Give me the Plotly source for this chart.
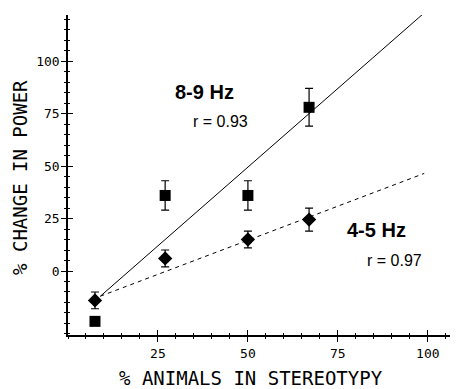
import plotly.graph_objects as go

# % animals in stereotypy
x_pts = [7.5, 27, 50, 67]
# 8-9 Hz (squares)
y_89 = [-24, 36, 36, 78]
err_89 = [0, 7, 7, 9]
# 4-5 Hz (diamonds)
y_45 = [-14, 6, 15, 24.5]
err_45 = [4, 4, 4, 5.5]
# regression lines (end points)
fit_x = [9, 99]
fit_89 = [-12, 123]
fit_45 = [-12, 46.5]

x_ticks = [25, 50, 75, 100]
y_ticks = [0, 25, 50, 75, 100]

mono = "DejaVu Sans Mono"
fig = go.Figure()

fig.add_trace(go.Scatter(x=fit_x, y=fit_89, mode="lines",
                         line=dict(color="black", width=1), showlegend=False))
fig.add_trace(go.Scatter(x=fit_x, y=fit_45, mode="lines",
                         line=dict(color="black", width=1, dash="4px,4px"), showlegend=False))
fig.add_trace(go.Scatter(x=x_pts, y=y_89, mode="markers",
                         marker=dict(symbol="square", size=11, color="black"),
                         error_y=dict(type="data", array=err_89, color="black", thickness=1.2, width=4),
                         showlegend=False))
fig.add_trace(go.Scatter(x=x_pts, y=y_45, mode="markers",
                         marker=dict(symbol="diamond", size=11, color="black"),
                         error_y=dict(type="data", array=err_45, color="black", thickness=1.2, width=4),
                         showlegend=False))
# overlay axes for outside ticks (ticks crossing the axis line)
fig.add_trace(go.Scatter(x=[None], y=[None], xaxis="x2", yaxis="y2", showlegend=False))

xr = [0, 107]
yr = [-30.5, 122]
common_x = dict(range=xr, showgrid=False, zeroline=False, showline=True, linecolor="black",
                linewidth=1.5, tickcolor="black", tickwidth=1.2, ticklen=5,
                tickvals=x_ticks, minor=dict(dtick=5, ticklen=2.5, tickcolor="black", showgrid=False))
common_y = dict(range=yr, showgrid=False, zeroline=False, showline=True, linecolor="black",
                linewidth=1.5, tickcolor="black", tickwidth=1.2, ticklen=5,
                tickvals=y_ticks, minor=dict(dtick=5, ticklen=2.5, tickcolor="black", showgrid=False))

fig.update_layout(
    width=458, height=389,
    margin=dict(l=60, r=13, t=7, b=62),
    paper_bgcolor="white", plot_bgcolor="white",
    xaxis=dict(**common_x, ticks="inside", minor_ticks="inside", ticklabelstandoff=6,
               tickfont=dict(family=mono, size=13, color="black")),
    yaxis=dict(**common_y, ticks="inside", minor_ticks="inside", ticklabelstandoff=4,
               tickfont=dict(family=mono, size=13, color="black")),
    xaxis2=dict(**common_x, ticks="outside", minor_ticks="outside", overlaying="x",
                showticklabels=False, anchor="y2", side="bottom"),
    yaxis2=dict(**common_y, ticks="outside", minor_ticks="outside", overlaying="y",
                showticklabels=False, anchor="x2", side="left"),
)

ann = [
    dict(text="<b>8-9 Hz</b>", x=38, y=85.2, size=20, fam="Liberation Sans"),
    dict(text="r = 0.93", x=42.5, y=71.4, size=16, fam="Liberation Sans"),
    dict(text="<b>4-5 Hz</b>", x=85.8, y=19.5, size=20, fam="Liberation Sans"),
    dict(text="r = 0.97", x=90.8, y=4.8, size=16, fam="Liberation Sans"),
]
for a in ann:
    fig.add_annotation(text=a["text"], x=a["x"], y=a["y"], xref="x", yref="y",
                       xanchor="center", yanchor="middle",
                       showarrow=False, font=dict(family=a["fam"], size=a["size"], color="black"))

fig.add_annotation(text="% ANIMALS IN STEREOTYPY", xref="paper", yref="paper",
                   x=0.475, y=-0.134, showarrow=False, xanchor="center", yanchor="middle",
                   font=dict(family=mono, size=19, color="black"))
fig.add_annotation(text="% CHANGE IN POWER", xref="paper", yref="paper",
                   x=-0.1247, y=0.494, showarrow=False, textangle=-90,
                   xanchor="center", yanchor="middle",
                   font=dict(family=mono, size=19, color="black"))

fig.write_html("out.html")
